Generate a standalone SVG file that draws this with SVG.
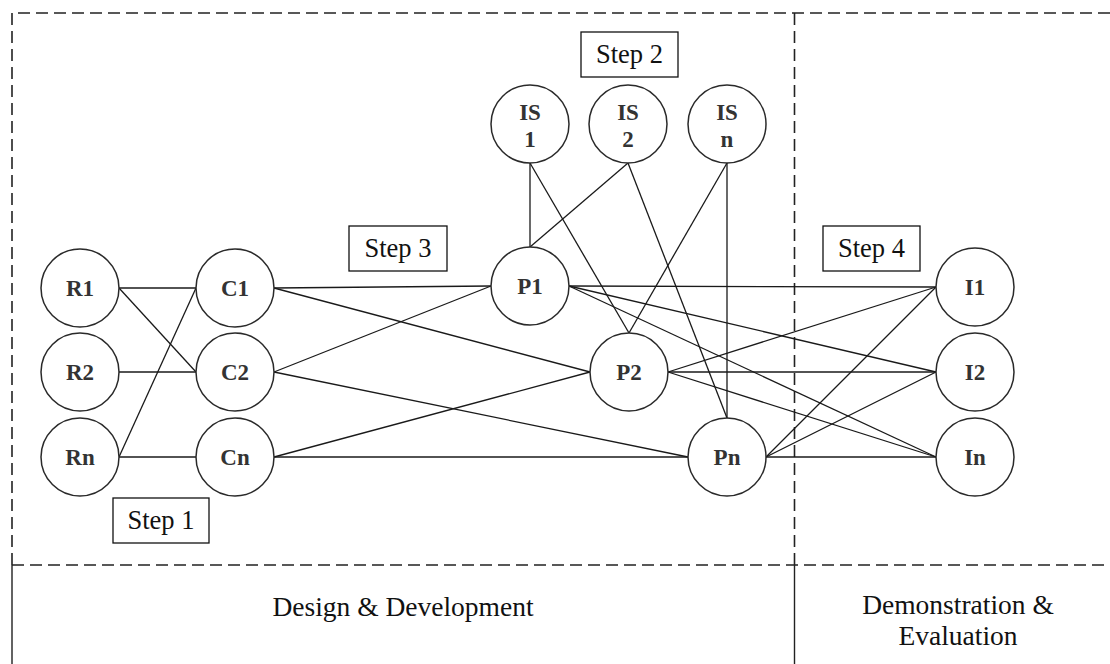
<svg xmlns="http://www.w3.org/2000/svg" width="1110" height="664" viewBox="0 0 1110 664">
  <style>
    .frame { stroke: #222; stroke-width: 1.6; fill: none; stroke-dasharray: 12 6; }
    .solid { stroke: #222; stroke-width: 1.4; fill: none; }
    .edge { stroke: #1a1a1a; stroke-width: 1.3; fill: none; }
    .node circle { fill: #fff; stroke: #2a2a2a; stroke-width: 1.5; }
    .node text { font-family: "Liberation Serif", "Times New Roman", serif; font-weight: bold; font-size: 23px; fill: #333; text-anchor: middle; }
    .step rect { fill: #fff; stroke: #111; stroke-width: 1.3; }
    .step text { font-family: "Liberation Serif", "Times New Roman", serif; font-size: 26.5px; fill: #111; text-anchor: middle; }
    .phase { font-family: "Liberation Serif", "Times New Roman", serif; font-size: 27.5px; fill: #111; text-anchor: middle; }
  </style>

  <rect width="1110" height="664" fill="#fff"/>

  <!-- Frame: dashed upper area, solid below the phase divider -->
  <g id="frame">
    <path class="frame" d="M1110 13 H12 V565"/>
    <path class="frame" d="M794.5 13 V565"/>
    <path class="frame" d="M12 565 H1110"/>
    <path class="solid" d="M12 565 V664 M794.5 565 V664"/>
  </g>

  <!-- Connectors -->
  <g id="connectors">
    <!-- requirements to concepts -->
    <line class="edge" x1="119" y1="288" x2="196" y2="288"/>
    <line class="edge" x1="119" y1="288" x2="196" y2="372"/>
    <line class="edge" x1="119" y1="372" x2="196" y2="372"/>
    <line class="edge" x1="119" y1="457" x2="196" y2="288"/>
    <line class="edge" x1="119" y1="457" x2="196" y2="457"/>
    <!-- concepts to prototypes -->
    <line class="edge" x1="274" y1="288" x2="491" y2="286"/>
    <line class="edge" x1="274" y1="288" x2="590" y2="372"/>
    <line class="edge" x1="274" y1="372" x2="491" y2="286"/>
    <line class="edge" x1="274" y1="372" x2="688" y2="457"/>
    <line class="edge" x1="274" y1="457" x2="590" y2="372"/>
    <line class="edge" x1="274" y1="457" x2="688" y2="457"/>
    <!-- information sources to prototypes -->
    <line class="edge" x1="530" y1="163" x2="530" y2="247"/>
    <line class="edge" x1="530" y1="163" x2="629" y2="333"/>
    <line class="edge" x1="628" y1="163" x2="530" y2="247"/>
    <line class="edge" x1="628" y1="163" x2="727" y2="418"/>
    <line class="edge" x1="727" y1="163" x2="629" y2="333"/>
    <line class="edge" x1="727" y1="163" x2="727" y2="418"/>
    <!-- prototypes to instances -->
    <line class="edge" x1="569" y1="286" x2="936" y2="287"/>
    <line class="edge" x1="569" y1="286" x2="936" y2="372"/>
    <line class="edge" x1="569" y1="286" x2="936" y2="457"/>
    <line class="edge" x1="668" y1="372" x2="936" y2="287"/>
    <line class="edge" x1="668" y1="372" x2="936" y2="372"/>
    <line class="edge" x1="668" y1="372" x2="936" y2="457"/>
    <line class="edge" x1="766" y1="457" x2="936" y2="287"/>
    <line class="edge" x1="766" y1="457" x2="936" y2="372"/>
    <line class="edge" x1="766" y1="457" x2="936" y2="457"/>
  </g>

  <!-- Nodes -->
  <g id="R1" class="node"><circle cx="80" cy="288" r="39"/><text x="80" y="296">R1</text></g>
  <g id="R2" class="node"><circle cx="80" cy="372" r="39"/><text x="80" y="380">R2</text></g>
  <g id="Rn" class="node"><circle cx="80" cy="457" r="39"/><text x="80" y="465">Rn</text></g>

  <g id="C1" class="node"><circle cx="235" cy="288" r="39"/><text x="235" y="296">C1</text></g>
  <g id="C2" class="node"><circle cx="235" cy="372" r="39"/><text x="235" y="380">C2</text></g>
  <g id="Cn" class="node"><circle cx="235" cy="457" r="39"/><text x="235" y="465">Cn</text></g>

  <g id="P1" class="node"><circle cx="530" cy="286" r="39"/><text x="530" y="294">P1</text></g>
  <g id="P2" class="node"><circle cx="629" cy="372" r="39"/><text x="629" y="380">P2</text></g>
  <g id="Pn" class="node"><circle cx="727" cy="457" r="39"/><text x="727" y="465">Pn</text></g>

  <g id="IS1" class="node"><circle cx="530" cy="124" r="39"/><text x="530" y="120">IS</text><text x="530" y="147">1</text></g>
  <g id="IS2" class="node"><circle cx="628" cy="124" r="39"/><text x="628" y="120">IS</text><text x="628" y="147">2</text></g>
  <g id="ISn" class="node"><circle cx="727" cy="124" r="39"/><text x="727" y="120">IS</text><text x="727" y="147">n</text></g>

  <g id="I1" class="node"><circle cx="975" cy="287" r="39"/><text x="975" y="295">I1</text></g>
  <g id="I2" class="node"><circle cx="975" cy="372" r="39"/><text x="975" y="380">I2</text></g>
  <g id="In" class="node"><circle cx="975" cy="457" r="39"/><text x="975" y="465">In</text></g>

  <!-- Step labels -->
  <g id="step1" class="step"><rect x="113" y="498" width="96" height="45"/><text x="161" y="529">Step 1</text></g>
  <g id="step2" class="step"><rect x="581" y="32" width="97" height="45"/><text x="629.5" y="63">Step 2</text></g>
  <g id="step3" class="step"><rect x="349" y="226" width="98" height="45"/><text x="398" y="257">Step 3</text></g>
  <g id="step4" class="step"><rect x="823" y="226" width="97" height="45"/><text x="871.5" y="257">Step 4</text></g>

  <!-- Phase captions -->
  <g id="phases">
    <text class="phase" x="403" y="616">Design &amp; Development</text>
    <text class="phase" x="958" y="614">Demonstration &amp;</text>
    <text class="phase" x="958" y="645">Evaluation</text>
  </g>
</svg>
